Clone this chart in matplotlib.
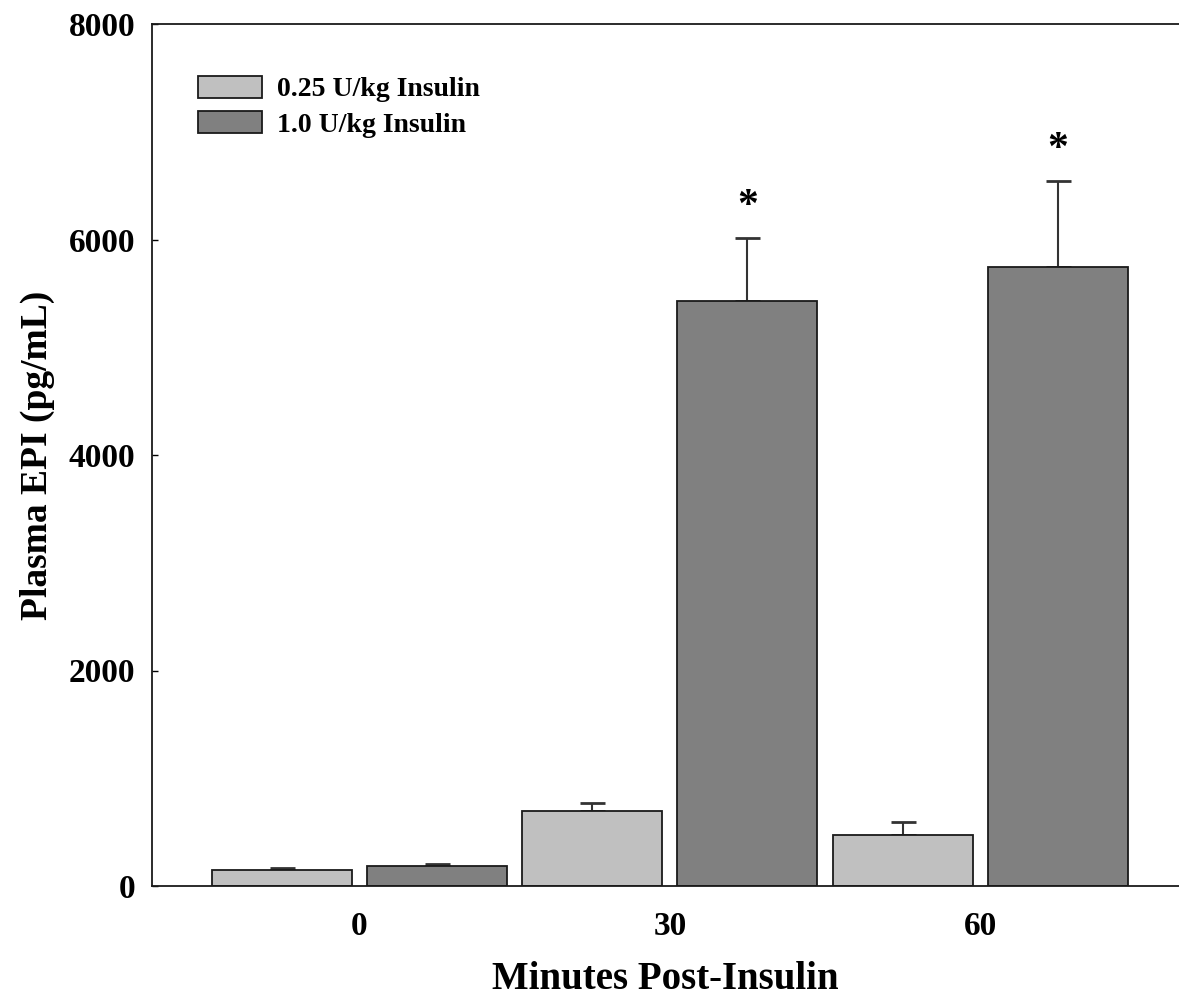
import matplotlib
matplotlib.use("Agg")
import matplotlib.pyplot as plt
import numpy as np

categories = ["0", "30", "60"]
series_names = ["0.25 U/kg Insulin", "1.0 U/kg Insulin"]
low_dose = [148, 696, 473]
low_err = [20, 70, 125]
high_dose = [183, 5426, 5748]
high_err = [17, 588, 798]
significant_high = [False, True, True]
y_ticks = [0, 2000, 4000, 6000, 8000]

plt.rcParams['font.family'] = ['Liberation Serif', 'DejaVu Serif']
plt.rcParams['font.weight'] = 'bold'

fig = plt.figure(figsize=(11.79, 10.07), dpi=100)
ax = fig.add_axes([152/1179, 1-886/1007, 1-152/1179, (886-24)/1007])

x = np.arange(len(categories))
off = 0.25
w = 0.451
colors = ['#c0c0c0', '#808080']

for vals, errs, dx, c, name in [(low_dose, low_err, -off, colors[0], series_names[0]),
                                (high_dose, high_err, off, colors[1], series_names[1])]:
    ax.bar(x + dx, vals, width=w, color=c, edgecolor='#1a1a1a', linewidth=1.3, label=name, zorder=2)
    ax.errorbar(x + dx, vals, yerr=[np.zeros(len(vals)), errs], fmt='none',
                ecolor='#333333', elinewidth=1.5, capsize=9, capthick=2, zorder=1)

for i, sig in enumerate(significant_high):
    if sig:
        ax.text(x[i] + off, high_dose[i] + high_err[i] + 110, '*', ha='center', va='bottom',
                fontsize=30, fontweight='bold')

ax.set_xlim(-0.668, 2.64)
ax.set_ylim(0, 8000)
ax.set_yticks(y_ticks)
ax.set_yticklabels([str(t) for t in y_ticks])
ax.set_xticks(x)
ax.set_xticklabels(categories)
ax.tick_params(axis='y', direction='in', length=4, width=1, labelsize=24, pad=12)
ax.tick_params(axis='x', length=0, labelsize=24, pad=18)
for lab in ax.get_xticklabels() + ax.get_yticklabels():
    lab.set_fontweight('bold')
ax.spines['right'].set_visible(False)
for s in ['left', 'bottom', 'top']:
    ax.spines[s].set_linewidth(1.3)
    ax.spines[s].set_color('#1a1a1a')

ax.set_xlabel('Minutes Post-Insulin', fontsize=28, fontweight='bold', labelpad=14)
ax.set_ylabel('Plasma EPI (pg/mL)', fontsize=27, fontweight='bold', labelpad=10)

leg = ax.legend(loc='upper left', bbox_to_anchor=(0.0448, 0.94), frameon=False,
                fontsize=20, handlelength=2.3, handleheight=0.86, labelspacing=0.3,
                handletextpad=0.55, borderaxespad=0, borderpad=0)
for t in leg.get_texts():
    t.set_fontweight('bold')

fig.savefig('out.png', dpi=100)
